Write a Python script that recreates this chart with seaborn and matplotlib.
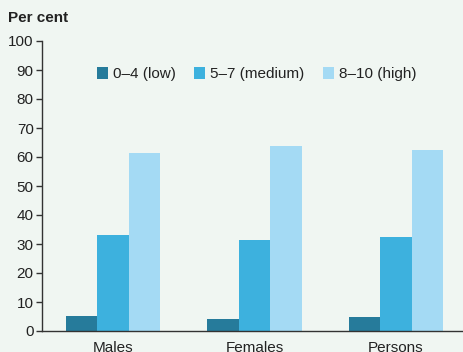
import matplotlib
matplotlib.use("Agg")
import matplotlib.pyplot as plt
import seaborn as sns
import pandas as pd

groups = ["Males", "Females", "Persons"]
levels = ["0–4 (low)", "5–7 (medium)", "8–10 (high)"]
low = [5.2, 4.2, 4.7]
medium = [33.2, 31.5, 32.5]
high = [61.3, 63.8, 62.5]
colors = ["#267b9b", "#3db1de", "#a4daf4"]
yticks = [0, 10, 20, 30, 40, 50, 60, 70, 80, 90, 100]

df = pd.DataFrame({
    "group": groups * 3,
    "level": [levels[0]] * 3 + [levels[1]] * 3 + [levels[2]] * 3,
    "value": low + medium + high,
})

sns.set_theme(style="white")
plt.rcParams["font.family"] = ["Liberation Sans", "DejaVu Sans"]
bg = "#f0f6f2"
fig = plt.figure(figsize=(4.64, 3.52), dpi=100, facecolor=bg)
ax = fig.add_axes([42 / 464, 21 / 352, (464 - 42) / 464, (331 - 41) / 352])
ax.set_facecolor(bg)

sns.barplot(data=df, x="group", y="value", hue="level", hue_order=levels,
            palette=colors, width=0.665, saturation=1, ax=ax,
            edgecolor="none", linewidth=0)

ax.set_ylim(0, 100)
ax.set_xlim(-0.5, 2.48)
ax.set_yticks(yticks)
ax.set_xlabel("")
ax.set_ylabel("")
for s in ["top", "right"]:
    ax.spines[s].set_visible(False)
for s in ["left", "bottom"]:
    ax.spines[s].set_color("#333333")
    ax.spines[s].set_linewidth(1)
ax.tick_params(axis="y", which="both", left=True, length=4, width=1,
               color="#333333", labelsize=11, labelcolor="#222222", pad=2)
ax.tick_params(axis="x", bottom=False, labelsize=11, labelcolor="#222222", pad=1.5)

leg = ax.legend(loc="upper left", bbox_to_anchor=(0.115, 0.93), ncol=3,
                frameon=False, fontsize=11, handlelength=0.75, handleheight=0.75,
                handletextpad=0.3, columnspacing=1.2, borderaxespad=0)
for t in leg.get_texts():
    t.set_color("#222222")

fig.text(8 / 464, 1 - 18 / 352, "Per cent", fontsize=11, fontweight="bold",
         color="#222222", va="center", ha="left")

fig.savefig("out.png", dpi=100, facecolor=bg)
